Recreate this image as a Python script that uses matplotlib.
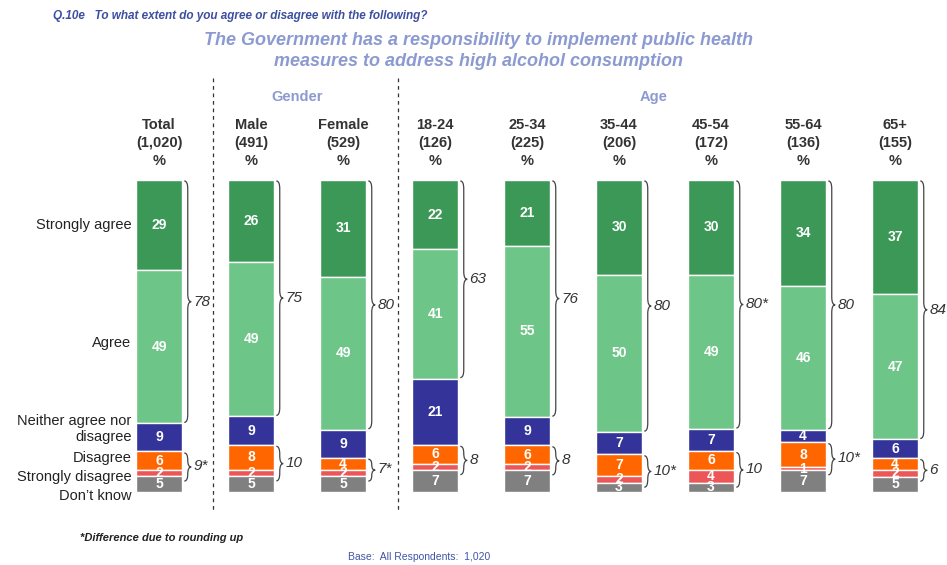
import matplotlib.pyplot as plt
from matplotlib.path import Path
from matplotlib.patches import PathPatch

plt.rcParams["font.family"] = ["Liberation Sans", "DejaVu Sans"]

groups = ["Total", "Male", "Female", "18-24", "25-34", "35-44", "45-54", "55-64", "65+"]
bases = ["(1,020)", "(491)", "(529)", "(126)", "(225)", "(206)", "(172)", "(136)", "(155)"]

strongly_agree = [29, 26, 31, 22, 21, 30, 30, 34, 37]
agree = [49, 49, 49, 41, 55, 50, 49, 46, 47]
neither = [9, 9, 9, 21, 9, 7, 7, 4, 6]
disagree = [6, 8, 4, 6, 6, 7, 6, 8, 4]
strongly_disagree = [2, 2, 2, 2, 2, 2, 4, 1, 2]
dont_know = [5, 5, 5, 7, 7, 3, 3, 7, 5]

net_agree = ["78", "75", "80", "63", "76", "80", "80*", "80", "84"]
net_disagree = ["9*", "10", "7*", "8", "8", "10*", "10", "10*", "6"]

series = [strongly_agree, agree, neither, disagree, strongly_disagree, dont_know]
colors = ["#3b9857", "#6dc587", "#333399", "#ff6600", "#ec5656", "#808080"]
row_labels = ["Strongly agree", "Agree", "Neither agree nor\ndisagree",
              "Disagree", "Strongly disagree", "Don\u2019t know"]
row_label_y = [14.4, 52.2, 79.8, 89.1, 95.2, 101.3]

W, H = 947, 565
fig = plt.figure(figsize=(W / 100, H / 100), dpi=100)
ax = fig.add_axes([0, 0, 1, 1])
# one unit per column (92 px apart), one percent = 3.12 px
ax.set_xlim(-159 / 92, (W - 159) / 92)
ax.set_ylim((H - 180) / 3.12, -180 / 3.12)
ax.axis("off")


def px(x, y):
    return x / W, 1 - y / H


def brace(x0, y0, y1, w=0.075, color="#444444"):
    ym = (y0 + y1) / 2
    r = min(2.5, (y1 - y0) / 4)
    xm = x0 + w / 2
    verts = [(x0, y0), (xm, y0), (xm, y0 + r),
             (xm, ym - r),
             (xm, ym), (x0 + w, ym),
             (xm, ym), (xm, ym + r),
             (xm, y1 - r),
             (xm, y1), (x0, y1)]
    codes = [Path.MOVETO, Path.CURVE3, Path.CURVE3,
             Path.LINETO,
             Path.CURVE3, Path.CURVE3,
             Path.CURVE3, Path.CURVE3,
             Path.LINETO,
             Path.CURVE3, Path.CURVE3]
    ax.add_patch(PathPatch(Path(verts, codes), fill=False, lw=0.9, ec=color))


bw = 0.49
for i in range(len(groups)):
    vals = [s[i] for s in series]
    tot = sum(vals)
    bottom = 0
    tops = []
    for v, c in zip(vals, colors):
        h = v * 100 / tot
        ax.bar(i, h, bottom=bottom, width=bw, color=c, edgecolor="white", linewidth=1)
        ax.text(i, bottom + h / 2, str(v), ha="center", va="center",
                color="white", fontsize=10, fontweight="bold")
        tops.append((bottom, bottom + h))
        bottom += h
    xb = i + bw / 2 + 0.03
    brace(xb, tops[0][0] + 0.3, tops[1][1] - 0.3)
    ax.text(xb + 0.1, (tops[0][0] + tops[1][1]) / 2, net_agree[i], ha="left",
            va="center", fontsize=11, style="italic", color="#333333")
    brace(xb, tops[3][0] + 0.5, tops[4][1] + 1.5)
    ax.text(xb + 0.1, (tops[3][0] + tops[4][1] + 1.5) / 2, net_disagree[i], ha="left",
            va="center", fontsize=11, style="italic", color="#333333")
    for line, yy in zip([groups[i], bases[i], "%"], [125, 143, 161]):
        fig.text(*px(159 + 92 * i, yy), line, ha="center", va="center",
                 fontsize=10.5, fontweight="bold", color="#333333")

for lab, yy in zip(row_labels, row_label_y):
    ax.text(-0.3, yy, lab, ha="right", va="center", fontsize=10.5,
            color="#222222", linespacing=1.2)

for xd in (0.59, 2.6):
    ax.plot([xd, xd], [-32.7, 106.4], color="#333333", lw=0.9,
            linestyle=(0, (3, 3)))

fig.text(*px(297, 97), "Gender", ha="center", va="center", fontsize=10.5,
         fontweight="bold", color="#8b9ad0")
fig.text(*px(654, 97), "Age", ha="center", va="center", fontsize=10.5,
         fontweight="bold", color="#8b9ad0")

fig.text(*px(53, 16), "Q.10e   To what extent do you agree or disagree with the following?",
         ha="left", va="center", fontsize=8.5, fontweight="bold", style="italic",
         color="#3d4fa0")
fig.text(*px(478, 51),
         "The Government has a responsibility to implement public health\n"
         "measures to address high alcohol consumption",
         ha="center", va="center", fontsize=13, fontweight="bold", style="italic",
         color="#8b9ad0", linespacing=1.25)

fig.text(*px(80, 538), "*Difference due to rounding up", ha="left", va="center",
         fontsize=8, fontweight="bold", style="italic", color="#222222")
fig.text(*px(348, 557), "Base:  All Respondents:  1,020", ha="left", va="center",
         fontsize=7.5, color="#4055a8",
         family=["Liberation Sans Narrow", "Liberation Sans", "DejaVu Sans"])

fig.savefig("out.png", dpi=100)
